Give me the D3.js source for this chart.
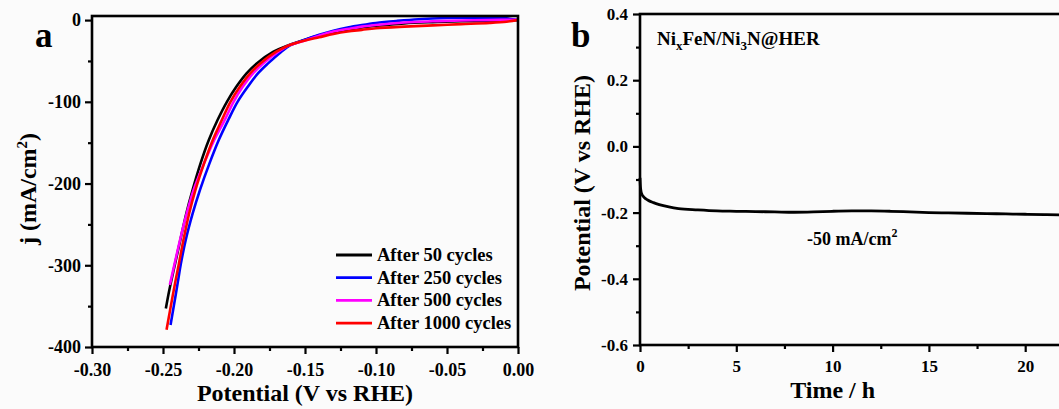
<!DOCTYPE html>
<html>
<head>
<meta charset="utf-8">
<script src="https://cdn.jsdelivr.net/npm/d3@7"></script>
<style>
  html, body { margin: 0; padding: 0; background: #fbfbfb; }
  svg { display: block; font-family: "Liberation Serif", "Times New Roman", serif; font-weight: bold; }
</style>
</head>
<body>
<svg id="chart" width="1059" height="409"></svg>
<script>
// ---- Panel a: polarization curves after cycling ----
const seriesNames = ["After 50 cycles", "After 250 cycles", "After 500 cycles", "After 1000 cycles"];
const seriesColors = ["#000000", "#0000ff", "#ff00ff", "#ff0000"];

// potential (V vs RHE) and current density (mA/cm2) pairs
const cycles50 = [
  [-0.2480,-353],[-0.2455,-330],[-0.2415,-298],[-0.2378,-269],[-0.2335,-236],[-0.2292,-208],
  [-0.2235,-175],[-0.2178,-147],[-0.2115,-122],[-0.2050,-100],[-0.1985,-82],[-0.1910,-65],
  [-0.1840,-53],[-0.1725,-39],[-0.1620,-31],[-0.1500,-24],[-0.1400,-19],[-0.1300,-15],
  [-0.1200,-12],[-0.1100,-9],[-0.1000,-7],[-0.0800,-4],[-0.0600,-2.5],[-0.0400,-1.5],
  [-0.0200,-1],[0.0000,0]
];
const cycles250 = [
  [-0.2447,-373],[-0.2424,-350],[-0.2395,-320],[-0.2374,-298],[-0.2340,-269],[-0.2290,-236],
  [-0.2240,-208],[-0.2172,-175],[-0.2108,-147],[-0.2040,-122],[-0.1975,-100],[-0.1905,-82],
  [-0.1830,-65],[-0.1760,-53],[-0.1668,-39],[-0.1605,-31],[-0.1500,-24],[-0.1400,-18],
  [-0.1300,-13],[-0.1200,-9],[-0.1100,-6],[-0.1000,-3.5],[-0.0850,-1],[-0.0700,1],
  [-0.0500,2.5],[-0.0300,3],[-0.0100,2.5],[0.0000,0]
];
const cycles500 = [
  [-0.2452,-324],[-0.2418,-298],[-0.2380,-269],[-0.2332,-236],[-0.2285,-208],[-0.2210,-175],
  [-0.2140,-147],[-0.2065,-122],[-0.2003,-100],[-0.1940,-82],[-0.1865,-65],[-0.1795,-53],
  [-0.1690,-39],[-0.1612,-31],[-0.1500,-25],[-0.1400,-19],[-0.1300,-14],[-0.1200,-11],
  [-0.1100,-8],[-0.1000,-6],[-0.0800,-3],[-0.0600,-1.5],[-0.0400,-0.5],[-0.0200,0],[0.0000,0.5]
];
const cycles1000 = [
  [-0.2475,-379],[-0.2445,-350],[-0.2413,-320],[-0.2388,-298],[-0.2356,-269],[-0.2315,-236],
  [-0.2272,-208],[-0.2210,-175],[-0.2150,-147],[-0.2085,-122],[-0.2025,-100],[-0.1960,-82],
  [-0.1885,-65],[-0.1815,-53],[-0.1705,-39],[-0.1615,-31],[-0.1500,-25],[-0.1400,-21],
  [-0.1300,-17],[-0.1200,-14],[-0.1100,-12],[-0.1000,-10],[-0.0800,-8],[-0.0600,-6.5],
  [-0.0400,-5],[-0.0200,-3.5],[-0.0080,-2],[0.0000,0]
];
const seriesA = [cycles50, cycles250, cycles500, cycles1000];

const xTicksA = [-0.30, -0.25, -0.20, -0.15, -0.10, -0.05, 0.00];
const yTicksA = [0, -100, -200, -300, -400];

// ---- Panel b: chronopotentiometry at -50 mA/cm2 ----
const timeH = [0, 0.02, 0.05, 0.1, 0.2, 0.4, 0.7, 1, 1.5, 2, 3, 4, 5, 6, 7, 8, 9, 10, 11, 12,
               13, 14, 15, 16, 17, 18, 19, 20, 21, 22, 23, 24];
const potentialV = [-0.095, -0.120, -0.135, -0.145, -0.153, -0.162, -0.170, -0.176, -0.183, -0.188,
                    -0.192, -0.195, -0.196, -0.197, -0.198, -0.199, -0.198, -0.196, -0.195, -0.195,
                    -0.196, -0.198, -0.200, -0.201, -0.202, -0.203, -0.204, -0.205, -0.206, -0.207,
                    -0.208, -0.208];
const xTicksB = [0, 5, 10, 15, 20];
const yTicksB = [0.4, 0.2, 0.0, -0.2, -0.4, -0.6];

const svg = d3.select("#chart");

function drawFrame(g, left, right, top, bottom) {
  g.append("rect")
    .attr("x", left).attr("y", top)
    .attr("width", right - left).attr("height", bottom - top)
    .attr("fill", "none").attr("stroke", "#000").attr("stroke-width", 2.6);
}

function styleAxis(sel, fs) {
  sel.select(".domain").remove();
  sel.selectAll(".tick line").attr("stroke", "#000").attr("stroke-width", 2.2);
  sel.selectAll(".tick text")
    .attr("fill", "#000")
    .style("font-family", '"Liberation Serif", "Times New Roman", serif')
    .style("font-weight", "bold")
    .style("font-size", fs + "px");
}

// ===== Panel a =====
const xA = d3.scaleLinear().domain([-0.30, 0.00]).range([92, 518]);
const yA = d3.scaleLinear().domain([-400, 5]).range([347, 16]);
const gA = svg.append("g");

const lineA = d3.line().x(d => xA(d[0])).y(d => yA(d[1])).curve(d3.curveCatmullRom.alpha(0.5));
seriesA.forEach((s, i) => {
  gA.append("path").datum(s)
    .attr("d", lineA)
    .attr("fill", "none")
    .attr("stroke", seriesColors[i])
    .attr("stroke-width", 2.6)
    .attr("stroke-linejoin", "round");
});

// axes
const axA_x = d3.axisBottom(xA).tickValues(xTicksA).tickSize(7).tickPadding(9);
const axA_xm = d3.axisBottom(xA).tickValues([-0.275, -0.225, -0.175, -0.125, -0.075, -0.025]).tickFormat("").tickSize(4);
const axA_y = d3.axisLeft(yA).tickValues(yTicksA).tickSize(7).tickPadding(4);
const axA_ym = d3.axisLeft(yA).tickValues([-50, -150, -250, -350]).tickFormat("").tickSize(4);

gA.append("g").attr("transform", "translate(0,347)").call(axA_x).call(s => styleAxis(s, 18))
  .selectAll(".tick text").text(d => d.toFixed(2));
gA.append("g").attr("transform", "translate(0,347)").call(axA_xm).call(s => styleAxis(s, 18));
gA.append("g").attr("transform", "translate(92,0)").call(axA_y).call(s => styleAxis(s, 18))
  .selectAll(".tick text").text(d => String(d));
gA.append("g").attr("transform", "translate(92,0)").call(axA_ym).call(s => styleAxis(s, 18));

drawFrame(gA, 92, 518, 16, 347);

// legend
const legend = gA.append("g");
seriesNames.forEach((name, i) => {
  const ly = 255 + i * 22.7;
  legend.append("line").attr("x1", 336).attr("x2", 372).attr("y1", ly).attr("y2", ly)
    .attr("stroke", seriesColors[i]).attr("stroke-width", 2.8);
  legend.append("text").attr("x", 377).attr("y", ly + 6)
    .attr("font-size", 18.5).attr("fill", "#000").text(name);
});

// titles
gA.append("text").attr("x", 305).attr("y", 401).attr("text-anchor", "middle")
  .attr("font-size", 24).text("Potential (V vs RHE)");
const yTitleA = gA.append("text").attr("transform", "translate(36,189) rotate(-90)")
  .attr("text-anchor", "middle").attr("font-size", 24);
yTitleA.append("tspan").text("j (mA/cm");
yTitleA.append("tspan").attr("dy", -9).attr("font-size", 15).text("2");
yTitleA.append("tspan").attr("dy", 9).text(")");
gA.append("text").attr("x", 35).attr("y", 47).attr("font-size", 35).text("a");

// ===== Panel b =====
const xB = d3.scaleLinear().domain([0, 25]).range([640, 1121.5]);
const yB = d3.scaleLinear().domain([-0.6, 0.4]).range([345, 14]);
const gB = svg.append("g");

gB.append("path").datum(timeH.map((t, i) => [t, potentialV[i]]))
  .attr("d", d3.line().x(d => xB(d[0])).y(d => yB(d[1])).curve(d3.curveMonotoneX))
  .attr("fill", "none").attr("stroke", "#000").attr("stroke-width", 2.8);

const axB_x = d3.axisBottom(xB).tickValues(xTicksB).tickFormat(d3.format("d")).tickSize(7).tickPadding(8);
const axB_xm = d3.axisBottom(xB).tickValues([2.5, 7.5, 12.5, 17.5, 22.5]).tickFormat("").tickSize(4);
const axB_y = d3.axisLeft(yB).tickValues(yTicksB).tickSize(7).tickPadding(5);
const axB_ym = d3.axisLeft(yB).tickValues([0.3, 0.1, -0.1, -0.3, -0.5]).tickFormat("").tickSize(4);

gB.append("g").attr("transform", "translate(0,345)").call(axB_x).call(s => styleAxis(s, 17));
gB.append("g").attr("transform", "translate(0,345)").call(axB_xm).call(s => styleAxis(s, 17));
gB.append("g").attr("transform", "translate(640,0)").call(axB_y).call(s => styleAxis(s, 17))
  .selectAll(".tick text").text(d => d.toFixed(1));
gB.append("g").attr("transform", "translate(640,0)").call(axB_ym).call(s => styleAxis(s, 17));

drawFrame(gB, 640, 1121.5, 14, 345);

gB.append("text").attr("x", xB(10)).attr("y", 398).attr("text-anchor", "middle")
  .attr("font-size", 24).text("Time / h");
gB.append("text").attr("transform", "translate(590,183) rotate(-90)")
  .attr("text-anchor", "middle").attr("font-size", 24).text("Potential (V vs RHE)");
gB.append("text").attr("x", 571).attr("y", 47).attr("font-size", 35).text("b");

// sample label with subscripts
const sample = gB.append("text").attr("x", 657).attr("y", 45).attr("font-size", 19);
sample.append("tspan").text("Ni");
sample.append("tspan").attr("dy", 5).attr("font-size", 13).text("x");
sample.append("tspan").attr("dy", -5).text("FeN/Ni");
sample.append("tspan").attr("dy", 5).attr("font-size", 13).text("3");
sample.append("tspan").attr("dy", -5).text("N@HER");

// current density annotation
const cd = gB.append("text").attr("x", 807).attr("y", 245).attr("font-size", 18);
cd.append("tspan").text("-50 mA/cm");
cd.append("tspan").attr("dy", -8).attr("font-size", 12).text("2");
</script>
</body>
</html>
